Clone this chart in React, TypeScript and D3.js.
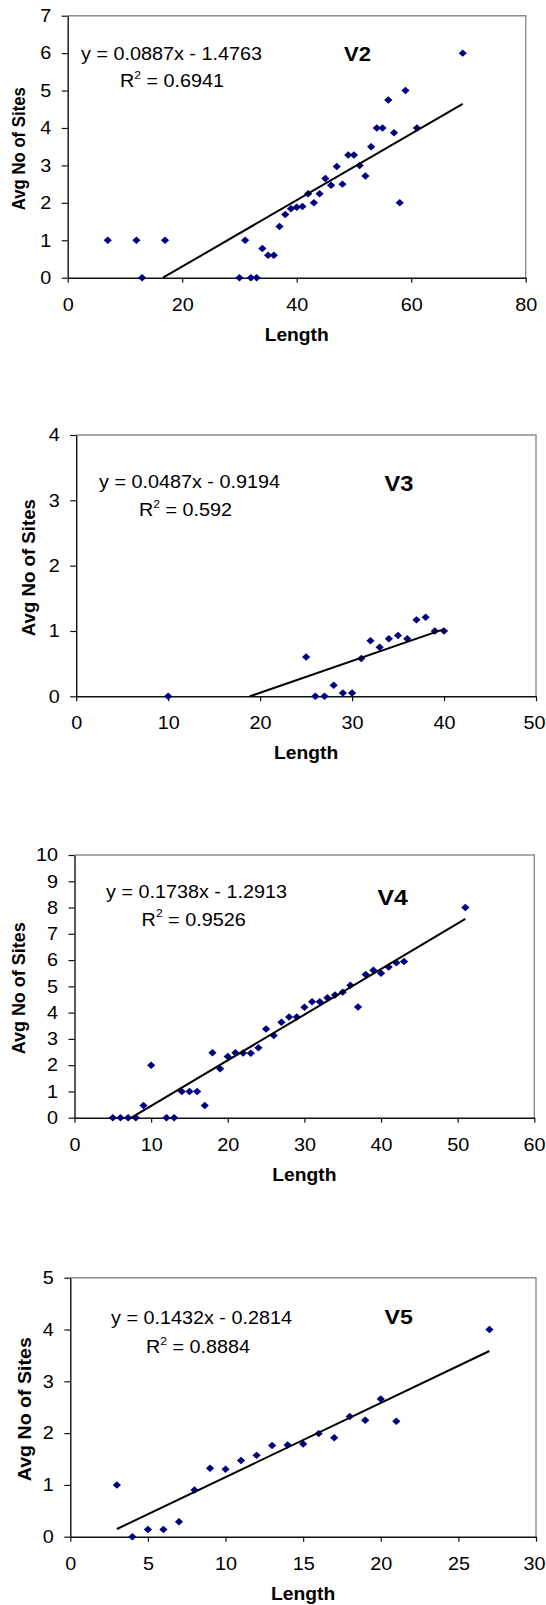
import React, { useEffect, useRef } from 'react'
import * as d3 from 'd3'

// V2
const v2Length = [7, 12, 13, 17, 30, 31, 32, 33, 34, 35, 36, 37, 38, 39, 40, 41, 42, 43, 44, 45, 46, 47, 48, 49, 50, 51, 52, 53, 54, 55, 56, 57, 58, 59, 61, 69]
const v2Sites = [1, 1, 0, 1, 0, 1, 0, 0, 0.78, 0.6, 0.6, 1.37, 1.69, 1.84, 1.88, 1.9, 2.24, 2.0, 2.24, 2.65, 2.47, 2.97, 2.5, 3.28, 3.28, 3.0, 2.72, 3.5, 4.0, 4.0, 4.75, 3.87, 2.0, 5.0, 4.0, 6.0]
const v2XTicks = [0, 20, 40, 60, 80]
const v2YTicks = [0, 1, 2, 3, 4, 5, 6, 7]

// V3
const v3Length = [10, 25, 26, 27, 28, 29, 30, 31, 32, 33, 34, 35, 36, 37, 38, 39, 40]
const v3Sites = [0, 0.6, 0, 0, 0.17, 0.05, 0.05, 0.58, 0.85, 0.75, 0.88, 0.93, 0.88, 1.17, 1.21, 1.0, 1.0]
const v3XTicks = [0, 10, 20, 30, 40, 50]
const v3YTicks = [0, 1, 2, 3, 4]

// V4
const v4Length = [5, 6, 7, 8, 9, 10, 12, 13, 14, 15, 16, 17, 18, 19, 20, 21, 22, 23, 24, 25, 26, 27, 28, 29, 30, 31, 32, 33, 34, 35, 36, 37, 38, 39, 40, 41, 42, 43, 51]
const v4Sites = [0, 0, 0, 0, 0.46, 2, 0, 0, 1, 1, 1, 0.46, 2.47, 1.86, 2.33, 2.47, 2.46, 2.45, 2.66, 3.38, 3.13, 3.63, 3.83, 3.83, 4.2, 4.41, 4.41, 4.57, 4.67, 4.78, 5.04, 4.21, 5.45, 5.61, 5.5, 5.74, 5.9, 5.95, 8]
const v4XTicks = [0, 10, 20, 30, 40, 50, 60]
const v4YTicks = [0, 1, 2, 3, 4, 5, 6, 7, 8, 9, 10]

// V5
const v5Length = [3, 4, 5, 6, 7, 8, 9, 10, 11, 12, 13, 14, 15, 16, 17, 18, 19, 20, 21, 27]
const v5Sites = [1, 0, 0.14, 0.14, 0.29, 0.9, 1.32, 1.3, 1.47, 1.57, 1.76, 1.77, 1.79, 1.99, 1.91, 2.32, 2.25, 2.66, 2.23, 4.0]
const v5XTicks = [0, 5, 10, 15, 20, 25, 30]
const v5YTicks = [0, 1, 2, 3, 4, 5]

// trendline fits as printed on the charts
const slopes = [0.0887, 0.0487, 0.1738, 0.1432]
const intercepts = [-1.4763, -0.9194, -1.2913, -0.2814]
const rSquared = ['0.6941', '0.592', '0.9526', '0.8884']
const names = ['V2', 'V3', 'V4', 'V5']

const FONT = "'Liberation Sans', Arial, Helvetica, sans-serif"
const STRETCH = 1.1
const WIDTH = 546

const panels = [
    { xs: v2Length, ys: v2Sites, xTicks: v2XTicks, yTicks: v2YTicks,
      left: 67.7, right: 525.7, top: 15.7, bottom: 277.7,
      eqX: 81, eqY: 60, rX: 120, rY: 87.3, nameX: 344, nameY: 61, nameSize: 20,
      titleX: 24.5, titleLen: 123 },
    { xs: v3Length, ys: v3Sites, xTicks: v3XTicks, yTicks: v3YTicks,
      left: 76.2, right: 536, top: 435, bottom: 696.3,
      eqX: 99, eqY: 488.3, rX: 139, rY: 516, nameX: 384.6, nameY: 491, nameSize: 21.5,
      titleX: 35, titleLen: 137 },
    { xs: v4Length, ys: v4Sites, xTicks: v4XTicks, yTicks: v4YTicks,
      left: 74.5, right: 534.3, top: 855, bottom: 1117.7,
      eqX: 106, eqY: 897.7, rX: 141.6, rY: 925.7, nameX: 377.6, nameY: 905, nameSize: 22.5,
      titleX: 25.2, titleLen: 132 },
    { xs: v5Length, ys: v5Sites, xTicks: v5XTicks, yTicks: v5YTicks,
      left: 70.3, right: 536, top: 1277.7, bottom: 1536.7,
      eqX: 111, eqY: 1324.3, rX: 146, rY: 1353.3, nameX: 384.6, nameY: 1324, nameSize: 21,
      titleX: 30.8, titleLen: 144 },
]

const fmt = (v: number) => (v < 0 ? ' - ' + Math.abs(v) : ' + ' + v)

function drawPanel(svg: any, p: any, i: number) {
    const g = svg.append('g')
    const xMax = p.xTicks[p.xTicks.length - 1]
    const yMax = p.yTicks[p.yTicks.length - 1]

    const xScale = d3.scaleLinear().domain([0, xMax]).range([p.left, p.right])
    const yScale = d3.scaleLinear().domain([0, yMax]).range([p.bottom, p.top])

    // grey frame on top and right
    g.append('path')
        .attr('d', `M${p.left},${p.top}H${p.right}V${p.bottom}`)
        .attr('fill', 'none')
        .attr('stroke', '#8c8c8c')
        .attr('stroke-width', 1.4)

    const xAxis = d3.axisBottom(xScale).tickValues(p.xTicks).tickSize(5).tickSizeOuter(0).tickPadding(15.3)
        .tickFormat(d3.format('d'))
    const yAxis = d3.axisLeft(yScale).tickValues(p.yTicks).tickSize(6).tickSizeOuter(0).tickPadding(9)
        .tickFormat(d3.format('d'))

    const gx = g.append('g').attr('transform', `translate(0,${p.bottom})`).call(xAxis)
    const gy = g.append('g').attr('transform', `translate(${p.left},0)`).call(yAxis)

    for (const ax of [gx, gy]) {
        ax.select('.domain').attr('stroke', '#111').attr('stroke-width', 1.4)
        ax.selectAll('line').attr('stroke', '#111').attr('stroke-width', 1.2)
        ax.selectAll('text')
            .attr('font-family', FONT)
            .attr('font-size', 18)
            .attr('fill', '#000')
            .attr('transform', `scale(${STRETCH},1)`)
    }

    // keep the last x label inside the page
    gx.selectAll('text').each(function (this: SVGTextElement, d: number) {
        const w = this.getBBox().width * STRETCH
        const over = xScale(d) + w / 2 - (WIDTH - 1)
        if (over > 0) d3.select(this).attr('x', -over / STRETCH)
    })

    // series markers
    g.selectAll('path.pt')
        .data(d3.zip(p.xs, p.ys))
        .join('path')
        .attr('class', 'pt')
        .attr('d', d3.symbol(d3.symbolSquare, 28))
        .attr('transform', (d: number[]) => `translate(${xScale(d[0])},${yScale(d[1])}) scale(${STRETCH},1) rotate(45)`)
        .attr('fill', '#000080')

    // linear trendline, clipped at y = 0
    const m = slopes[i]
    const b = intercepts[i]
    const x0 = Math.max(d3.min(p.xs) as number, -b / m)
    const x1 = d3.max(p.xs) as number
    const trend = d3.line<number>()
        .x(v => xScale(v))
        .y(v => yScale(m * v + b))
    g.append('path')
        .attr('d', trend([x0, x1]))
        .attr('fill', 'none')
        .attr('stroke', '#000')
        .attr('stroke-width', 2)

    const txt = (x: number, y: number) => g.append('text')
        .attr('transform', `translate(${x},${y}) scale(${STRETCH},1)`)
        .attr('font-family', FONT)
        .attr('font-size', 18)
        .attr('fill', '#000')

    txt(p.eqX, p.eqY).text(`y = ${m}x${fmt(b)}`)

    const r = txt(p.rX, p.rY)
    r.append('tspan').text('R')
    r.append('tspan').attr('font-size', 11).attr('dy', -8.5).text('2')
    r.append('tspan').attr('dy', 8.5).text(` = ${rSquared[i]}`)

    txt(p.nameX, p.nameY)
        .attr('font-weight', 'bold')
        .attr('font-size', p.nameSize)
        .text(names[i])

    txt((p.left + p.right) / 2, p.bottom + 63)
        .attr('font-weight', 'bold')
        .attr('text-anchor', 'middle')
        .attr('font-size', 17.5)
        .text('Length')

    g.append('text')
        .attr('transform', `translate(${p.titleX},${(p.top + p.bottom) / 2 + 2}) rotate(-90) scale(1,${STRETCH})`)
        .attr('font-family', FONT)
        .attr('font-size', 17)
        .attr('font-weight', 'bold')
        .attr('text-anchor', 'middle')
        .attr('textLength', p.titleLen)
        .attr('lengthAdjust', 'spacingAndGlyphs')
        .text('Avg No of Sites')
}

const App = () => {
    const ref = useRef<SVGSVGElement>(null)

    useEffect(() => {
        const svg = d3.select(ref.current)
        svg.selectAll('*').remove()
        panels.forEach((p, i) => drawPanel(svg, p, i))
    }, [])

    return (
        <svg
            ref={ref}
            width={WIDTH}
            height={1605}
            viewBox='0 0 546 1605'
            style={{ position: 'absolute', left: 0, top: 0, background: '#fff', display: 'block' }}
        />
    )
}

export default App
